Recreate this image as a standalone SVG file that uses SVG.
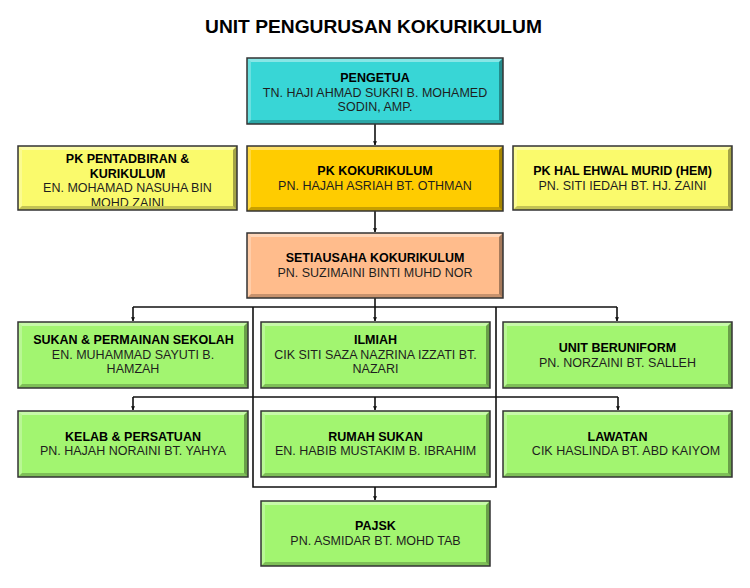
<svg xmlns="http://www.w3.org/2000/svg" width="750" height="588" viewBox="0 0 750 588">
<style>
.title{font-family:"Liberation Sans",Arial,sans-serif;font-weight:bold;font-size:19.2px;fill:#000;text-anchor:middle}
.h{font-family:"Liberation Sans",Arial,sans-serif;font-weight:bold;font-size:12.5px;fill:#000;text-anchor:middle}
.n{font-family:"Liberation Sans",Arial,sans-serif;font-size:12.5px;fill:#1e1e1e;text-anchor:middle}
.box{stroke:#333;stroke-width:1.5}
.lt{fill:#fff;fill-opacity:.4}
.ll{fill:#fff;fill-opacity:.25}
.db{fill:#000;fill-opacity:.22}
.dr{fill:#000;fill-opacity:.35}
.cyan{fill:#38D6D6}.yel{fill:#FAFA6C}.gold{fill:#FFCC00}.peach{fill:#FFBC8C}.grn{fill:#A2F570}
.c{fill:none;stroke:#111;stroke-width:1.6}
</style>
<defs>
<marker id="arr" viewBox="0 0 8 8" refX="7.5" refY="4" markerWidth="4" markerHeight="4" orient="auto" markerUnits="userSpaceOnUse">
<path d="M0,0 L8,4 L0,8 z" fill="#111"/>
</marker>
<clipPath id="clipPent"><rect x="18" y="146" width="219" height="60"/></clipPath>
</defs>

<text class="title" x="373.5" y="33">UNIT PENGURUSAN KOKURIKULUM</text>

<g id="connectors">
<path class="c" d="M375,124 V145" marker-end="url(#arr)"/>
<path class="c" d="M375,211 V232" marker-end="url(#arr)"/>
<path class="c" d="M375,298 V307"/>
<path class="c" d="M133,307 H617"/>
<path class="c" d="M133,307 V321" marker-end="url(#arr)"/>
<path class="c" d="M375,307 V321" marker-end="url(#arr)"/>
<path class="c" d="M617,307 V321" marker-end="url(#arr)"/>
<path class="c" d="M253,307 V487 H496 V307"/>
<path class="c" d="M133,397 H618"/>
<path class="c" d="M133,397 V410" marker-end="url(#arr)"/>
<path class="c" d="M375,397 V410" marker-end="url(#arr)"/>
<path class="c" d="M618,397 V410" marker-end="url(#arr)"/>
<path class="c" d="M375,487 V500" marker-end="url(#arr)"/>
</g>

<g id="pengetua">
<rect class="cyan" x="247" y="58" width="256" height="66"/>
<polygon class="lt" points="247,58 503,58 499,62 251,62"/>
<polygon class="ll" points="247,58 251,62 251,120 247,124"/>
<polygon class="db" points="247,124 251,120 499,120 503,124"/>
<polygon class="dr" points="503,58 503,124 499,120 499,62"/>
<rect class="box" fill="none" x="247" y="58" width="256" height="66"/>
<text class="h" x="375" y="82">PENGETUA</text>
<text class="n" x="375" y="97">TN. HAJI AHMAD SUKRI B. MOHAMED</text>
<text class="n" x="375" y="111">SODIN, AMP.</text>
</g>

<g id="pk-pentadbiran">
<rect class="yel" x="18" y="146" width="219" height="64"/>
<g clip-path="url(#clipPent)">
<text class="h" x="127.5" y="163">PK PENTADBIRAN &amp;</text>
<text class="h" x="127.5" y="177.5">KURIKULUM</text>
<text class="n" x="127.5" y="192">EN. MOHAMAD NASUHA BIN</text>
<text class="n" x="127.5" y="207">MOHD ZAINI</text>
</g>
<polygon class="lt" points="18,146 237,146 233,150 22,150"/>
<polygon class="ll" points="18,146 22,150 22,206 18,210"/>
<polygon class="db" points="18,210 22,206 233,206 237,210"/>
<polygon class="dr" points="237,146 237,210 233,206 233,150"/>
<rect class="box" fill="none" x="18" y="146" width="219" height="64"/>
</g>

<g id="pk-kokurikulum">
<rect class="gold" x="247" y="146" width="256" height="65"/>
<polygon class="lt" points="247,146 503,146 499,150 251,150"/>
<polygon class="ll" points="247,146 251,150 251,207 247,211"/>
<polygon class="db" points="247,211 251,207 499,207 503,211"/>
<polygon class="dr" points="503,146 503,211 499,207 499,150"/>
<rect class="box" fill="none" x="247" y="146" width="256" height="65"/>
<text class="h" x="375" y="175">PK KOKURIKULUM</text>
<text class="n" x="375" y="190">PN. HAJAH ASRIAH BT. OTHMAN</text>
</g>

<g id="pk-hem">
<rect class="yel" x="513" y="146" width="219" height="64"/>
<polygon class="lt" points="513,146 732,146 728,150 517,150"/>
<polygon class="ll" points="513,146 517,150 517,206 513,210"/>
<polygon class="db" points="513,210 517,206 728,206 732,210"/>
<polygon class="dr" points="732,146 732,210 728,206 728,150"/>
<rect class="box" fill="none" x="513" y="146" width="219" height="64"/>
<text class="h" x="622.5" y="175">PK HAL EHWAL MURID (HEM)</text>
<text class="n" x="622.5" y="189.5">PN. SITI IEDAH BT. HJ. ZAINI</text>
</g>

<g id="setiausaha">
<rect class="peach" x="247" y="233" width="256" height="65"/>
<polygon class="lt" points="247,233 503,233 499,237 251,237"/>
<polygon class="ll" points="247,233 251,237 251,294 247,298"/>
<polygon class="db" points="247,298 251,294 499,294 503,298"/>
<polygon class="dr" points="503,233 503,298 499,294 499,237"/>
<rect class="box" fill="none" x="247" y="233" width="256" height="65"/>
<text class="h" x="375" y="262">SETIAUSAHA KOKURIKULUM</text>
<text class="n" x="375" y="277">PN. SUZIMAINI BINTI MUHD NOR</text>
</g>

<g id="sukan">
<rect class="grn" x="18" y="322" width="230" height="66"/>
<polygon class="lt" points="18,322 248,322 244,326 22,326"/>
<polygon class="ll" points="18,322 22,326 22,384 18,388"/>
<polygon class="db" points="18,388 22,384 244,384 248,388"/>
<polygon class="dr" points="248,322 248,388 244,384 244,326"/>
<rect class="box" fill="none" x="18" y="322" width="230" height="66"/>
<text class="h" x="133.5" y="344">SUKAN &amp; PERMAINAN SEKOLAH</text>
<text class="n" x="133" y="358.5">EN. MUHAMMAD SAYUTI B.</text>
<text class="n" x="133" y="372.5">HAMZAH</text>
</g>

<g id="ilmiah">
<rect class="grn" x="261" y="322" width="229" height="66"/>
<polygon class="lt" points="261,322 490,322 486,326 265,326"/>
<polygon class="ll" points="261,322 265,326 265,384 261,388"/>
<polygon class="db" points="261,388 265,384 486,384 490,388"/>
<polygon class="dr" points="490,322 490,388 486,384 486,326"/>
<rect class="box" fill="none" x="261" y="322" width="229" height="66"/>
<text class="h" x="375.5" y="344">ILMIAH</text>
<text class="n" x="375.5" y="358.5">CIK SITI SAZA NAZRINA IZZATI BT.</text>
<text class="n" x="375.5" y="372.5">NAZARI</text>
</g>

<g id="beruniform">
<rect class="grn" x="503" y="322" width="229" height="66"/>
<polygon class="lt" points="503,322 732,322 728,326 507,326"/>
<polygon class="ll" points="503,322 507,326 507,384 503,388"/>
<polygon class="db" points="503,388 507,384 728,384 732,388"/>
<polygon class="dr" points="732,322 732,388 728,384 728,326"/>
<rect class="box" fill="none" x="503" y="322" width="229" height="66"/>
<text class="h" x="617.5" y="352">UNIT BERUNIFORM</text>
<text class="n" x="617.5" y="366.5">PN. NORZAINI BT. SALLEH</text>
</g>

<g id="kelab">
<rect class="grn" x="18" y="411" width="230" height="66"/>
<polygon class="lt" points="18,411 248,411 244,415 22,415"/>
<polygon class="ll" points="18,411 22,415 22,473 18,477"/>
<polygon class="db" points="18,477 22,473 244,473 248,477"/>
<polygon class="dr" points="248,411 248,477 244,473 244,415"/>
<rect class="box" fill="none" x="18" y="411" width="230" height="66"/>
<text class="h" x="133" y="440.5">KELAB &amp; PERSATUAN</text>
<text class="n" x="133" y="455">PN. HAJAH NORAINI BT. YAHYA</text>
</g>

<g id="rumah-sukan">
<rect class="grn" x="261" y="411" width="229" height="66"/>
<polygon class="lt" points="261,411 490,411 486,415 265,415"/>
<polygon class="ll" points="261,411 265,415 265,473 261,477"/>
<polygon class="db" points="261,477 265,473 486,473 490,477"/>
<polygon class="dr" points="490,411 490,477 486,473 486,415"/>
<rect class="box" fill="none" x="261" y="411" width="229" height="66"/>
<text class="h" x="375.5" y="440.5">RUMAH SUKAN</text>
<text class="n" x="375.5" y="455">EN. HABIB MUSTAKIM B. IBRAHIM</text>
</g>

<g id="lawatan">
<rect class="grn" x="503" y="411" width="229" height="66"/>
<polygon class="lt" points="503,411 732,411 728,415 507,415"/>
<polygon class="ll" points="503,411 507,415 507,473 503,477"/>
<polygon class="db" points="503,477 507,473 728,473 732,477"/>
<polygon class="dr" points="732,411 732,477 728,473 728,415"/>
<rect class="box" fill="none" x="503" y="411" width="229" height="66"/>
<text class="h" x="617.5" y="440.5">LAWATAN</text>
<text class="n" x="626" y="455">CIK HASLINDA BT. ABD KAIYOM</text>
</g>

<g id="pajsk">
<rect class="grn" x="261" y="501" width="229" height="65"/>
<polygon class="lt" points="261,501 490,501 486,505 265,505"/>
<polygon class="ll" points="261,501 265,505 265,562 261,566"/>
<polygon class="db" points="261,566 265,562 486,562 490,566"/>
<polygon class="dr" points="490,501 490,566 486,562 486,505"/>
<rect class="box" fill="none" x="261" y="501" width="229" height="65"/>
<text class="h" x="375.5" y="530">PAJSK</text>
<text class="n" x="375.5" y="544.5">PN. ASMIDAR BT. MOHD TAB</text>
</g>
</svg>
